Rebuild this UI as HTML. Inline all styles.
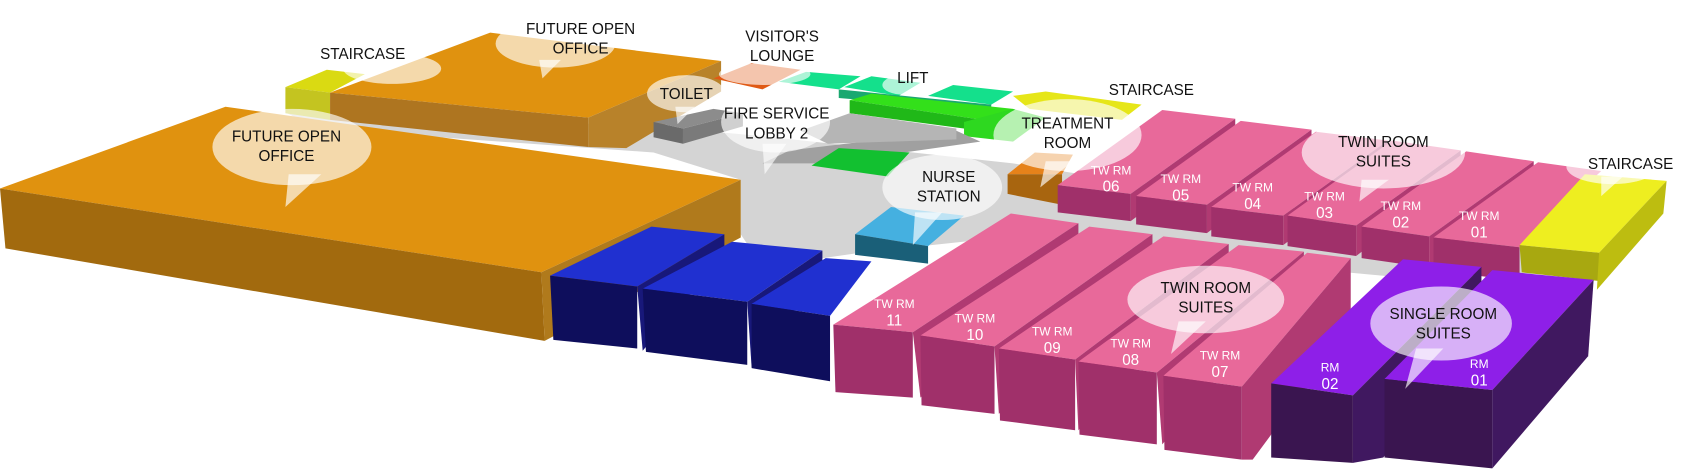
<!DOCTYPE html>
<html><head><meta charset="utf-8"><style>
html,body{margin:0;padding:0;background:#fff;}
svg{display:block;}
text{font-family:"Liberation Sans Narrow","Liberation Sans",sans-serif;}
.l{font-size:14px;fill:#111;text-anchor:middle;}
.w{font-size:11px;fill:#fff;text-anchor:middle;}
.w2{font-size:14px;fill:#fff;text-anchor:middle;}
</style></head><body>
<svg width="1708" height="476" viewBox="0 0 1568 437" preserveAspectRatio="none" xmlns="http://www.w3.org/2000/svg">
<polygon fill="#D4D4D4" points="262,103 600,116 700,125 930,150 1400,225 1440,250 1300,256 1150,242 940,216 790,232 700,245 680,215 680,165 600,140 290,118"/>
<polygon fill="#DADA12" points="262,80 300,64 335,68 303,85"/>
<polygon fill="#C4C420" points="262,80 303,85 303,110 262,104"/>
<polygon fill="#E0920F" points="303,85 450,30 662,56 540,108"/>
<polygon fill="#AE7520" points="303,85 540,108 540,135 303,110"/>
<polygon fill="#B8822A" points="540,108 662,56 662,84 575,136 540,135"/>
<polygon fill="#E05A15" points="655,72 690,58 735,64 700,82"/>
<polygon fill="#8C8C8C" points="600,112 655,100 682,104 627,118"/>
<polygon fill="#6A6A6A" points="600,112 627,118 627,132 600,126"/>
<polygon fill="#7A7A7A" points="627,118 682,104 682,116 627,132"/>
<polygon fill="#14E08C" points="715,75 740,66 790,70 770,82"/>
<polygon fill="#14E08C" points="775,80 800,70 845,76 825,88"/>
<polygon fill="#14E08C" points="852,88 875,78 930,84 910,96"/>
<polygon fill="#1AA870" points="770,82 910,96 910,102 770,90"/>
<polygon fill="#33E01A" points="780,92 800,86 930,100 915,112"/>
<polygon fill="#20B818" points="780,92 915,112 915,122 780,104"/>
<polygon fill="#2ED820" points="885,112 930,100 960,108 930,130 885,125"/>
<polygon fill="#E6E618" points="930,88 960,84 1048,96 1030,110 945,100"/>
<polygon fill="#A0A0A0" points="700,150 725,138 878,120 900,130 760,150"/>
<polygon fill="#B5B5B5" points="735,120 780,104 878,118 878,128 760,132"/>
<polygon fill="#12C030" points="745,152 770,136 835,140 815,162"/>
<polygon fill="#E6821A" points="925,160 950,140 985,142 975,160"/>
<polygon fill="#A8650F" points="925,160 975,160 975,188 925,178"/>
<polygon fill="#45B0E0" points="785,215 818,190 885,198 852,226"/>
<polygon fill="#1A5F78" points="785,215 852,226 852,242 785,234"/>
<polygon fill="#E0920F" points="0,173 207,98 680,165 497,250"/>
<polygon fill="#A26A0E" points="0,173 497,250 500,313 5,228"/>
<polygon fill="#B07A1C" points="497,250 680,165 680,218 500,313"/>
<g>
<polygon fill="#2030D0" points="505,253 598,208 665,215 585,263"/>
<polygon fill="#0E0E5C" points="505,253 585,263 585,320 508,312"/>
<polygon fill="#18187A" points="585,263 665,215 665,232 590,322"/>
<polygon fill="#2030D0" points="590,265 672,222 755,230 686,277"/>
<polygon fill="#0E0E5C" points="590,265 686,277 686,335 593,323"/>
<polygon fill="#18187A" points="686,277 755,230 755,250 690,337"/>
<polygon fill="#2030D0" points="690,279 758,237 800,240 762,290"/>
<polygon fill="#0E0E5C" points="690,279 762,290 762,350 690,338"/>
</g>
<g>
<polygon fill="#E8699A" points="971,170 1067,101 1134,109 1038,178"/><polygon fill="#A0306A" points="971,170 1038,178 1038,203 971,195"/><polygon fill="#B03A72" points="1038,178 1134,109 1134,132 1038,203"/>
<polygon fill="#E8699A" points="1043,180 1139,111 1204,119 1108,188"/><polygon fill="#A0306A" points="1043,180 1108,188 1108,214 1043,206"/><polygon fill="#B03A72" points="1108,188 1204,119 1204,142 1108,214"/>
<polygon fill="#E8699A" points="1112,190 1208,121 1274,129 1178,198"/><polygon fill="#A0306A" points="1112,190 1178,198 1178,225 1112,217"/><polygon fill="#B03A72" points="1178,198 1274,129 1274,152 1178,225"/>
<polygon fill="#E8699A" points="1182,198 1278,129 1341,138 1245,207"/><polygon fill="#A0306A" points="1182,198 1245,207 1245,235 1182,226"/><polygon fill="#B03A72" points="1245,207 1341,138 1341,162 1245,235"/>
<polygon fill="#E8699A" points="1250,208 1346,139 1408,148 1312,217"/><polygon fill="#A0306A" points="1250,208 1312,217 1312,246 1250,237"/><polygon fill="#B03A72" points="1312,217 1408,148 1408,172 1312,246"/>
<polygon fill="#E8699A" points="1316,218 1412,149 1470,157 1395,227"/><polygon fill="#A0306A" points="1316,218 1395,227 1395,258 1316,248"/>
</g>
<polygon fill="#EEEE20" points="1395,225 1455,160 1530,166 1468,232"/>
<polygon fill="#A8A810" points="1395,225 1468,232 1468,258 1397,250"/>
<polygon fill="#BDBD10" points="1468,232 1530,166 1527,196 1466,266"/>
<g>
<polygon fill="#E8699A" points="765,298 928,196 990,205 838,305"/><polygon fill="#A0306A" points="765,298 838,305 838,365 767,360"/><polygon fill="#B03A72" points="838,305 990,205 990,222 845,365"/>
<polygon fill="#E8699A" points="845,308 1000,208 1058,215 913,318"/><polygon fill="#A0306A" points="845,308 913,318 913,380 846,372"/><polygon fill="#B03A72" points="913,318 1058,215 1058,235 917,380"/>
<polygon fill="#E8699A" points="917,320 1068,217 1128,224 987,330"/><polygon fill="#A0306A" points="917,320 987,330 987,395 918,386"/><polygon fill="#B03A72" points="987,330 1128,224 1128,244 990,395"/>
<polygon fill="#E8699A" points="990,332 1137,225 1197,231 1062,342"/><polygon fill="#A0306A" points="990,332 1062,342 1062,408 991,399"/><polygon fill="#B03A72" points="1062,342 1197,231 1197,251 1067,408"/>
<polygon fill="#E8699A" points="1068,345 1200,232 1240,237 1140,355"/><polygon fill="#A0306A" points="1068,345 1140,355 1140,422 1069,413"/><polygon fill="#B03A72" points="1140,355 1240,237 1240,300 1150,422 1140,422"/>
</g>
<g>
<polygon fill="#8E1FE8" points="1167,352 1288,238 1360,245 1242,363"/><polygon fill="#3A1550" points="1167,352 1242,363 1242,425 1167,420"/><polygon fill="#401860" points="1242,363 1360,245 1360,275 1270,420 1242,425"/>
<polygon fill="#8E1FE8" points="1271,348 1370,248 1463,257 1370,358"/><polygon fill="#3A1550" points="1271,348 1370,358 1370,430 1271,420"/><polygon fill="#401860" points="1370,358 1463,257 1458,327 1370,430"/>
</g>
<g class="w">
<text x="1020" y="160">TW RM</text><text class="w2" x="1020" y="176">06</text>
<text x="1084" y="168">TW RM</text><text class="w2" x="1084" y="184">05</text>
<text x="1150" y="176">TW RM</text><text class="w2" x="1150" y="192">04</text>
<text x="1216" y="184">TW RM</text><text class="w2" x="1216" y="200">03</text>
<text x="1286" y="193">TW RM</text><text class="w2" x="1286" y="209">02</text>
<text x="1358" y="202">TW RM</text><text class="w2" x="1358" y="218">01</text>
<text x="821" y="283">TW RM</text><text class="w2" x="821" y="299">11</text>
<text x="895" y="296">TW RM</text><text class="w2" x="895" y="312">10</text>
<text x="966" y="308">TW RM</text><text class="w2" x="966" y="324">09</text>
<text x="1038" y="319">TW RM</text><text class="w2" x="1038" y="335">08</text>
<text x="1120" y="330">TW RM</text><text class="w2" x="1120" y="346">07</text>
<text x="1221" y="341">RM</text><text class="w2" x="1221" y="357">02</text>
<text x="1358" y="338">RM</text><text class="w2" x="1358" y="354">01</text>
</g>
<g fill="#fff" fill-opacity="0.65">
<ellipse cx="360" cy="63" rx="45" ry="14"/>
<ellipse cx="510" cy="40" rx="55" ry="22"/><polygon points="495,55 515,55 498,72"/>
<ellipse cx="702" cy="68" rx="42" ry="10"/>
<ellipse cx="630" cy="86" rx="36" ry="17"/><polygon points="620,98 638,98 622,114"/>
<ellipse cx="712" cy="112" rx="50" ry="28"/><polygon points="700,132 722,132 702,160"/>
<ellipse cx="830" cy="78" rx="20" ry="9"/>
<ellipse cx="980" cy="124" rx="68" ry="33"/><polygon points="960,148 985,148 955,172"/>
<ellipse cx="865" cy="172" rx="55" ry="30"/><polygon points="840,195 865,195 838,225"/>
<ellipse cx="1270" cy="140" rx="75" ry="33"/><polygon points="1250,165 1275,165 1248,185"/>
<ellipse cx="1480" cy="153" rx="42" ry="16"/><polygon points="1470,162 1490,162 1470,180"/>
<ellipse cx="1107" cy="275" rx="72" ry="31"/><polygon points="1082,295 1107,295 1075,325"/>
<ellipse cx="1323" cy="297" rx="65" ry="34"/><polygon points="1300,320 1325,320 1290,357"/>
<ellipse cx="268" cy="135" rx="73" ry="35"/><polygon points="265,160 295,160 262,190"/>
</g>
<g class="l">
<text x="333" y="54">STAIRCASE</text>
<text x="533" y="31">FUTURE OPEN</text><text x="533" y="49">OFFICE</text>
<text x="718" y="38">VISITOR'S</text><text x="718" y="56">LOUNGE</text>
<text x="630" y="91">TOILET</text>
<text x="713" y="109">FIRE SERVICE</text><text x="713" y="127">LOBBY 2</text>
<text x="838" y="76">LIFT</text>
<text x="1057" y="87">STAIRCASE</text>
<text x="980" y="118">TREATMENT</text><text x="980" y="136">ROOM</text>
<text x="871" y="167">NURSE</text><text x="871" y="185">STATION</text>
<text x="1270" y="135">TWIN ROOM</text><text x="1270" y="153">SUITES</text>
<text x="1497" y="155">STAIRCASE</text>
<text x="1107" y="269">TWIN ROOM</text><text x="1107" y="287">SUITES</text>
<text x="1325" y="293">SINGLE ROOM</text><text x="1325" y="311">SUITES</text>
<text x="263" y="130">FUTURE OPEN</text><text x="263" y="148">OFFICE</text>
</g>
</svg>
</body></html>
